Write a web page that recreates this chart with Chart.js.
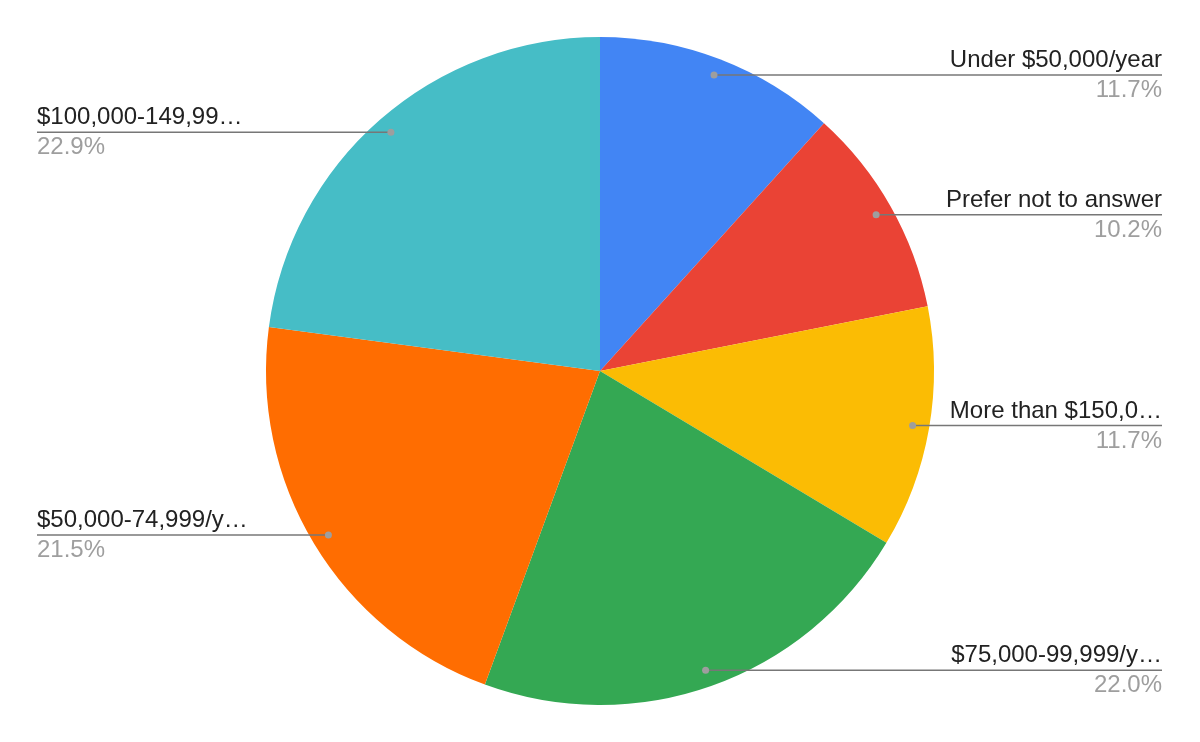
<!DOCTYPE html>
<html lang="en">
<head>
    <meta charset="UTF-8">
    <title>Income pie</title>
    <script src="https://cdn.jsdelivr.net/npm/chart.js"></script>
    <style>
        html, body { margin: 0; padding: 0; background: #fff; }
        canvas { display: block; }
    </style>
</head>
<body>
    <canvas id="pieChart" width="1200" height="742"></canvas>
    <script>
        // slices clockwise from 12 o'clock
        const categories = [
            'Under $50,000/year',
            'Prefer not to answer',
            'More than $150,0\u2026',
            '$75,000-99,999/y\u2026',
            '$50,000-74,999/y\u2026',
            '$100,000-149,99\u2026'
        ];
        const shares = [11.7, 10.2, 11.7, 22.0, 21.5, 22.9];
        const sliceColors = ['#4285f4', '#ea4335', '#fbbc04', '#34a853', '#ff6d01', '#46bdc6'];

        // leader lines + two-line labels, right side ends at 1162, left side starts at 37
        const sideLabels = {
            id: 'sideLabels',
            afterDatasetsDraw(chart) {
                const ctx = chart.ctx;
                const arcs = chart.getDatasetMeta(0).data;
                ctx.save();
                arcs.forEach(function(arc, i) {
                    const mid = (arc.startAngle + arc.endAngle) / 2;
                    const r = arc.outerRadius * 0.95;
                    const x = arc.x + Math.cos(mid) * r;
                    const y = arc.y + Math.sin(mid) * r;
                    const right = Math.cos(mid) >= 0;
                    const edge = right ? 1162 : 37;

                    ctx.strokeStyle = '#777777';
                    ctx.lineWidth = 1.5;
                    ctx.beginPath();
                    ctx.moveTo(x, y);
                    ctx.lineTo(edge, y);
                    ctx.stroke();

                    ctx.fillStyle = '#9e9e9e';
                    ctx.beginPath();
                    ctx.arc(x, y, 3.5, 0, Math.PI * 2);
                    ctx.fill();

                    ctx.textAlign = right ? 'right' : 'left';
                    ctx.textBaseline = 'alphabetic';
                    ctx.font = '24px Arial, "Liberation Sans", sans-serif';
                    ctx.fillStyle = '#222222';
                    ctx.fillText(categories[i], edge, y - 8);
                    ctx.fillStyle = '#9e9e9e';
                    ctx.fillText(shares[i].toFixed(1) + '%', edge, y + 22);
                });
                ctx.restore();
            }
        };

        new Chart(document.getElementById('pieChart'), {
            type: 'pie',
            data: {
                labels: categories,
                datasets: [{
                    data: shares,
                    backgroundColor: sliceColors,
                    borderWidth: 0
                }]
            },
            options: {
                responsive: false,
                animation: false,
                devicePixelRatio: 1,
                layout: { padding: { top: 37, bottom: 37, left: 0, right: 0 } },
                plugins: {
                    legend: { display: false },
                    tooltip: { enabled: false }
                }
            },
            plugins: [sideLabels]
        });
    </script>
</body>
</html>
